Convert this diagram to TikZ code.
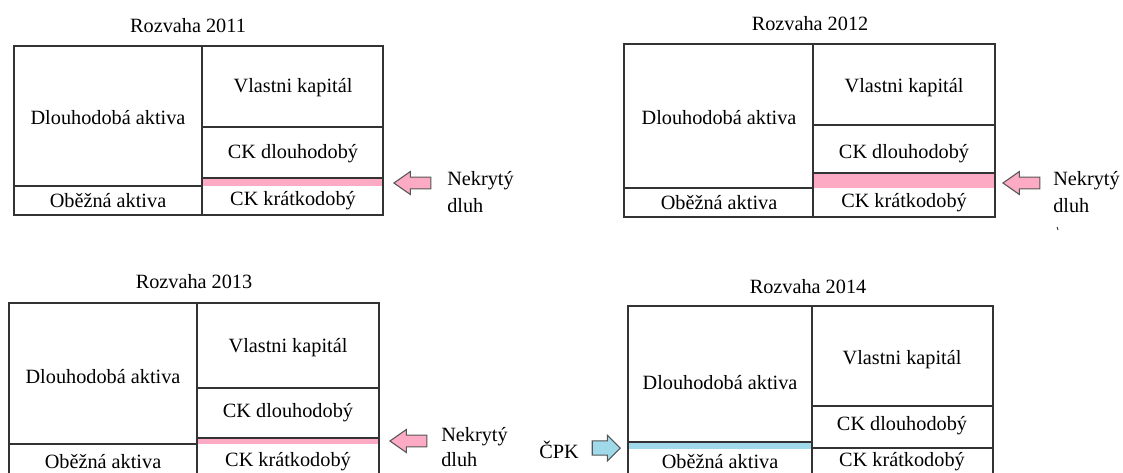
\documentclass[tikz,border=0pt]{standalone}
\usepackage{fontspec}
\setmainfont{Liberation Serif}
\usepackage{tikz}
\usetikzlibrary{shapes.arrows}
\definecolor{dluhpink}{HTML}{FDAAC4}
\definecolor{cpkblue}{HTML}{9FD9EA}
\definecolor{edge}{HTML}{333333}
\definecolor{arredge}{HTML}{555555}

\begin{document}
\begin{tikzpicture}[x=0.75pt, y=-0.75pt,
  every node/.style={font=\fontsize{15.2}{20}\selectfont, inner sep=0pt},
  sheet/.style={draw=edge, line width=0.9pt},
  ttl/.style={anchor=base},
  lbl/.style={align=left, anchor=north west},
  larr/.style={single arrow, draw=arredge, line width=0.8pt, fill=dluhpink,
               shape border rotate=180, minimum height=27.75pt,
               single arrow head extend=4.2pt, single arrow tip angle=70,
               inner xsep=0pt, inner ysep=4pt},
  rarr/.style={single arrow, draw=arredge, line width=0.8pt, fill=cpkblue,
               minimum height=21pt, single arrow head extend=4.2pt,
               inner xsep=0pt, inner ysep=5pt}]
  \useasboundingbox (0,0) rectangle (1123,472);

  \fill[dluhpink] (202,178) rectangle (383,186);
  \draw[sheet] (14,46) rectangle (383,215);
  \draw[sheet] (202,46) -- (202,215);
  \draw[sheet] (14,186) -- (202,186);
  \draw[sheet] (202,127) -- (383,127);
  \draw[sheet] (202,178) -- (383,178);
  \node[ttl] (t11) at (188,32) {Rozvaha 2011};
  \node (dl11) at (108,118) {Dlouhodobá aktiva};
  \node (vk11) at (293,88) {Vlastni kapitál};
  \node (ckd11) at (293,154) {CK dlouhodobý};
  \node (ob11) at (108,201) {Oběžná aktiva};
  \node (ckk11) at (293,201) {CK krátkodobý};
  \node[larr, anchor=tip] (arr11) at (393,183) {};
  \node[lbl] (nek11) at (447,171) {Nekrytý\\dluh};

  \fill[dluhpink] (813,173) rectangle (995,188);
  \draw[sheet] (624,44) rectangle (995,217);
  \draw[sheet] (813,44) -- (813,217);
  \draw[sheet] (624,188) -- (813,188);
  \draw[sheet] (813,125) -- (995,125);
  \draw[sheet] (813,173) -- (995,173);
  \node[ttl] (t12) at (810,30) {Rozvaha 2012};
  \node (dl12) at (719,118) {Dlouhodobá aktiva};
  \node (vk12) at (904,88) {Vlastni kapitál};
  \node (ckd12) at (904,154) {CK dlouhodobý};
  \node (ob12) at (719,203) {Oběžná aktiva};
  \node (ckk12) at (904,203) {CK krátkodobý};
  \node[larr, anchor=tip] (arr12) at (1002,183) {};
  \node[lbl] (nek12) at (1053,171) {Nekrytý\\dluh};
  \draw[edge, line width=0.7pt] (1057,227) -- (1058,230);

  \fill[dluhpink] (197,438) rectangle (379,444);
  \draw[sheet] (9,303) rectangle (379,480);
  \draw[sheet] (197,303) -- (197,480);
  \draw[sheet] (9,444) -- (197,444);
  \draw[sheet] (197,388) -- (379,388);
  \draw[sheet] (197,438) -- (379,438);
  \node[ttl] (t13) at (194,288) {Rozvaha 2013};
  \node (dl13) at (103,377) {Dlouhodobá aktiva};
  \node (vk13) at (288,348) {Vlastni kapitál};
  \node (ckd13) at (288,413) {CK dlouhodobý};
  \node (ob13) at (103,462) {Oběžná aktiva};
  \node (ckk13) at (288,462) {CK krátkodobý};
  \node[larr, anchor=tip] (arr13) at (389,441) {};
  \node[lbl, font=\fontsize{15.2}{18.5}\selectfont] (nek13) at (441,427) {Nekrytý\\dluh};

  \fill[cpkblue] (628,442) rectangle (812,449);
  \draw[sheet] (628,306) rectangle (993,480);
  \draw[sheet] (812,306) -- (812,480);
  \draw[sheet] (628,442) -- (812,442);
  \draw[sheet] (812,406) -- (993,406);
  \draw[sheet] (812,448) -- (993,448);
  \node[ttl] (t14) at (808,293) {Rozvaha 2014};
  \node (dl14) at (720,383) {Dlouhodobá aktiva};
  \node (vk14) at (902,360) {Vlastni kapitál};
  \node (ckd14) at (902,426) {CK dlouhodobý};
  \node (ob14) at (720,462) {Oběžná aktiva};
  \node (ckk14) at (902,462) {CK krátkodobý};
  \node (cpk) at (559,450) {ČPK};
  \node[rarr, anchor=tip] (arr14) at (621,448) {};
\end{tikzpicture}
\end{document}
